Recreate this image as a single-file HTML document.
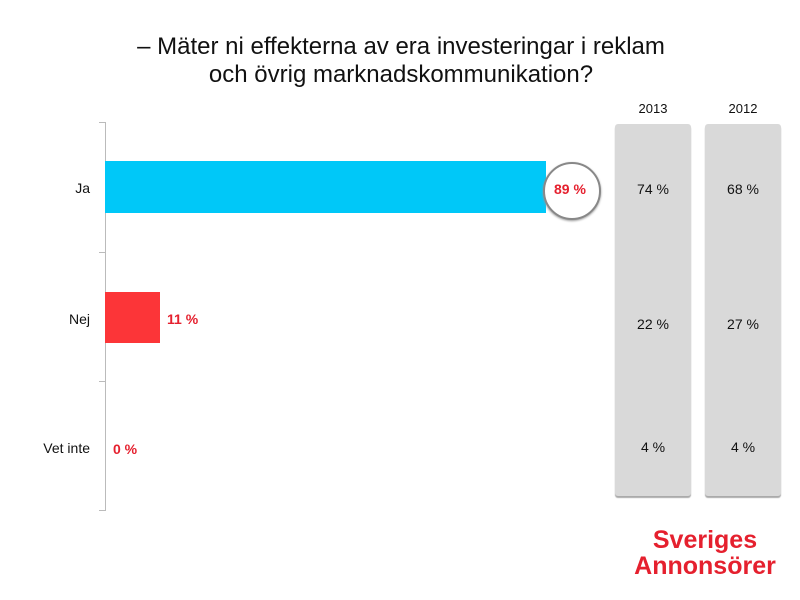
<!DOCTYPE html><html><head><style>
body{margin:0;width:800px;height:600px;background:#fff;font-family:"Liberation Sans",sans-serif;position:relative;overflow:hidden}
div{position:absolute}
.t{font-size:24px;color:#111;text-align:center;width:800px;left:1px}
.l{font-size:14px;color:#111;text-align:right;width:90px;left:0}
.g{background:#d9d9d9;border-radius:3px;box-shadow:0 2px 1px #aaa;width:76px;top:124px;height:372px}
.v{font-size:14px;color:#111;text-align:center;width:76px}
.r{font-size:14px;color:#e5202e;font-weight:bold}
.k{left:99px;width:6px;height:1px;background:#bbb}
</style></head><body>
<div class="t" style="top:33px">– Mäter ni effekterna av era investeringar i reklam</div>
<div class="t" style="top:61px">och övrig marknadskommunikation?</div>
<div style="left:105px;top:122px;width:1px;height:389px;background:#bbb"></div>
<div class="k" style="top:122px"></div><div class="k" style="top:252px"></div><div class="k" style="top:381px"></div><div class="k" style="top:510px"></div>
<div style="left:105px;top:161px;width:441px;height:52px;background:#00c8f8"></div>
<div style="left:105px;top:292px;width:55px;height:51px;background:#fc3538"></div>
<div style="left:543px;top:162px;width:54px;height:54px;border:2px solid #888;border-radius:50%;background:#fff;box-shadow:0 1px 2px #999"></div>
<div class="r" style="left:554px;top:181px">89 %</div>
<div class="r" style="left:167px;top:311px">11 %</div>
<div class="r" style="left:113px;top:441px">0 %</div>
<div class="l" style="top:180px">Ja</div>
<div class="l" style="top:311px">Nej</div>
<div class="l" style="top:440px">Vet inte</div>
<div class="g" style="left:615px"></div><div class="g" style="left:705px"></div>
<div class="v" style="left:615px;top:101px;font-size:13px">2013</div>
<div class="v" style="left:705px;top:101px;font-size:13px">2012</div>
<div class="v" style="left:615px;top:181px">74 %</div><div class="v" style="left:705px;top:181px">68 %</div>
<div class="v" style="left:615px;top:316px">22 %</div><div class="v" style="left:705px;top:316px">27 %</div>
<div class="v" style="left:615px;top:439px">4 %</div><div class="v" style="left:705px;top:439px">4 %</div>
<div style="left:620px;top:527px;width:170px;text-align:center;color:#e5202e;font-size:25px;font-weight:bold;line-height:26px">Sveriges<br>Annonsörer</div>
</body></html>
